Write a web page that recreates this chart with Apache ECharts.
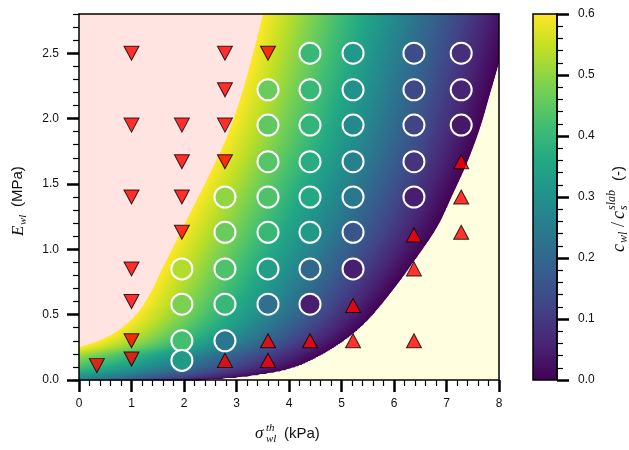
<!DOCTYPE html>
<html>
<head>
<meta charset="utf-8">
<script src="https://cdn.jsdelivr.net/npm/echarts@6/dist/echarts.min.js"></script>
<style>
  html, body { margin: 0; padding: 0; background: #fff; }
  #chart { width: 629px; height: 450px; }
</style>
</head>
<body>
<div id="chart"></div>
<script>
// Axis ranges and tick values
const xTicks = [0, 1, 2, 3, 4, 5, 6, 7, 8];
const yMajorTicks = [0, 0.5, 1.0, 1.5, 2.0, 2.5];
const cTicks = [0, 0.1, 0.2, 0.3, 0.4, 0.5, 0.6];

// Experiments with a stable weak layer: [sigma_th (kPa), E_wl (MPa), c_wl/c_s^slab]
const stablePoints = [
  [4.4, 2.5, 0.40], [5.22, 2.5, 0.32], [6.38, 2.5, 0.14], [7.28, 2.5, 0.08],
  [3.6, 2.22, 0.46], [4.4, 2.22, 0.40], [5.22, 2.22, 0.30], [6.38, 2.22, 0.13], [7.28, 2.22, 0.06],
  [3.6, 1.95, 0.45], [4.4, 1.95, 0.39], [5.22, 1.95, 0.28], [6.38, 1.95, 0.12], [7.28, 1.95, 0.04],
  [3.6, 1.67, 0.44], [4.4, 1.67, 0.37], [5.22, 1.67, 0.26], [6.38, 1.67, 0.09],
  [2.78, 1.40, 0.50], [3.6, 1.40, 0.43], [4.4, 1.40, 0.36], [5.22, 1.40, 0.24], [6.38, 1.40, 0.05],
  [2.78, 1.13, 0.46], [3.6, 1.13, 0.40], [4.4, 1.13, 0.32], [5.22, 1.13, 0.16],
  [1.96, 0.85, 0.53], [2.78, 0.85, 0.43], [3.6, 0.85, 0.33], [4.4, 0.85, 0.20], [5.22, 0.85, 0.05],
  [1.96, 0.58, 0.48], [2.78, 0.58, 0.40], [3.6, 0.58, 0.22], [4.4, 0.58, 0.05],
  [1.96, 0.30, 0.42], [2.78, 0.30, 0.24],
  [1.96, 0.15, 0.32]
];

// Experiments in which the slab fails first: [sigma_th, E_wl]
const slabFailure = [
  [0.34, 0.11], [1.0, 0.16], [1.0, 0.30], [1.0, 0.60], [1.0, 0.85], [1.0, 1.40], [1.0, 1.95], [1.0, 2.5],
  [1.96, 1.13], [1.96, 1.40], [1.96, 1.67], [1.96, 1.95],
  [2.78, 1.67], [2.78, 1.95], [2.78, 2.22], [2.78, 2.5],
  [3.6, 2.5]
];

// Experiments in which the weak layer collapses first: [sigma_th, E_wl]
const wlFailure = [
  [2.78, 0.15], [3.6, 0.15], [3.6, 0.30], [4.4, 0.30], [5.22, 0.30], [6.38, 0.30],
  [5.22, 0.57], [6.38, 0.85], [6.38, 1.11],
  [7.28, 1.13], [7.28, 1.40], [7.28, 1.67]
];

// Edges of the transition band, [sigma_th, E_wl]; upper edge is c = 0.6, lower edge is c = 0
const upperEdge = [
  [-3.5, 0], [-1.8, 0.1], [-0.7, 0.2], [0, 0.25], [0.5, 0.32], [1.0, 0.46], [1.3, 0.62],
  [1.6, 0.86], [1.9, 1.10], [2.2, 1.34], [2.5, 1.58], [2.8, 1.84], [3.05, 2.12],
  [3.3, 2.47], [3.51, 2.8]
];
const lowerEdge = [
  [2.3, 0], [2.7, 0.01], [3.2, 0.03], [3.7, 0.06], [4.1, 0.1], [4.5, 0.17],
  [4.85, 0.25], [5.2, 0.35], [5.5, 0.46], [5.92, 0.66], [6.4, 0.92],
  [6.82, 1.17], [7.13, 1.43], [7.41, 1.68], [7.64, 1.93], [7.83, 2.19], [7.96, 2.37], [8.25, 2.8]
];

const X_MIN = 0, X_MAX = 8, Y_MIN = 0, Y_MAX = 2.8, C_MIN = 0, C_MAX = 0.6;

const viridis = ['#440154', '#482475', '#414487', '#355f8d', '#2a788e', '#21918c',
                 '#22a884', '#44bf70', '#7ad151', '#bddf26', '#fde725'];
// high value (yellow) first
const stopsHighToLow = viridis.map((c, i) => ({ offset: i / 10, color: viridis[10 - i] }));

// Monotone cubic (Fritsch-Carlson) curve giving sigma as a function of E along an edge
function edgeCurve(edge) {
  const xs = edge.map(p => p[1]), ys = edge.map(p => p[0]);
  const n = xs.length;
  const d = [], m = new Array(n);
  for (let i = 0; i < n - 1; i++) d.push((ys[i + 1] - ys[i]) / (xs[i + 1] - xs[i]));
  m[0] = d[0]; m[n - 1] = d[n - 2];
  for (let i = 1; i < n - 1; i++) m[i] = d[i - 1] * d[i] <= 0 ? 0 : (d[i - 1] + d[i]) / 2;
  for (let i = 0; i < n - 1; i++) {
    if (d[i] === 0) { m[i] = 0; m[i + 1] = 0; continue; }
    const a = m[i] / d[i], b = m[i + 1] / d[i], s = a * a + b * b;
    if (s > 9) { const t = 3 / Math.sqrt(s); m[i] = t * a * d[i]; m[i + 1] = t * b * d[i]; }
  }
  return function (x) {
    let i = 0;
    while (i < n - 2 && x > xs[i + 1]) i++;
    const h = xs[i + 1] - xs[i], t = (x - xs[i]) / h;
    const t2 = t * t, t3 = t2 * t;
    return (2 * t3 - 3 * t2 + 1) * ys[i] + (t3 - 2 * t2 + t) * h * m[i] +
           (-2 * t3 + 3 * t2) * ys[i + 1] + (t3 - t2) * h * m[i + 1];
  };
}
const upperSigma = edgeCurve(upperEdge);
const lowerSigma = edgeCurve(lowerEdge);

// Horizontal strips used to paint the band between the two edges
const STRIP = 0.01;
const bandStrips = [];
for (let k = 0; k < Math.round((Y_MAX - Y_MIN) / STRIP); k++) {
  bandStrips.push([Y_MIN + k * STRIP, Y_MIN + (k + 1) * STRIP]);
}

function renderBand(params, api) {
  const e0 = api.value(0), e1 = api.value(1);
  const yA = api.coord([0, e0])[1] + 0.6;
  const yB = api.coord([0, e1])[1] - 0.6;
  const X = s => api.coord([Math.max(X_MIN, Math.min(X_MAX, s)), 0])[0];
  const u0 = upperSigma(e0), u1 = upperSigma(e1);
  const l0 = lowerSigma(e0), l1 = lowerSigma(e1);
  const gx0 = api.coord([(u0 + u1) / 2, 0])[0];
  const gx1 = api.coord([(l0 + l1) / 2, 0])[0];
  const children = [{
    type: 'polygon',
    shape: { points: [[X(u0), yA], [X(l0), yA], [X(l1), yB], [X(u1), yB]] },
    style: { fill: new echarts.graphic.LinearGradient(gx0, 0, gx1, 0, stopsHighToLow, true) }
  }];
  if (l0 < X_MAX || l1 < X_MAX) {
    children.push({
      type: 'polygon',
      shape: { points: [[X(l0), yA], [X(X_MAX), yA], [X(X_MAX), yB], [X(l1), yB]] },
      style: { fill: '#ffffe0' }
    });
  }
  return { type: 'group', children };
}

function renderColorbar(params, api) {
  const cs = params.coordSys;
  return {
    type: 'rect',
    shape: { x: cs.x, y: cs.y, width: cs.width, height: cs.height },
    style: {
      fill: new echarts.graphic.LinearGradient(0, 0, 0, 1, stopsHighToLow),
      stroke: '#000', lineWidth: 1.5
    }
  };
}

const labelFont = 'Liberation Sans, Arial, sans-serif';
const mathFont = 'Liberation Serif, Times New Roman, serif';
const black = '#000';

const borderAxis = (pos) => ({
  axisLine: { show: true, onZero: false, lineStyle: { color: black, width: 1.5 } },
  axisTick: { show: false }, axisLabel: { show: false },
  splitLine: { show: false }, position: pos, z: 10
});

const chart = echarts.init(document.getElementById('chart'), null, { renderer: 'canvas' });

chart.setOption({
  animation: false,
  backgroundColor: '#fff',
  grid: [
    { left: 79, top: 14, width: 420, height: 366, show: true, backgroundColor: '#ffe4e1', borderWidth: 0 },
    { left: 533, top: 14, width: 24, height: 366 }
  ],
  xAxis: [
    {
      gridIndex: 0, type: 'value', min: X_MIN, max: X_MAX, interval: 1, position: 'bottom', z: 10,
      axisLine: { show: true, onZero: false, lineStyle: { color: black, width: 1.5 } },
      axisTick: { show: true, length: 12, lineStyle: { color: black, width: 2.5 } },
      minorTick: { show: true, splitNumber: 5, length: 6, lineStyle: { color: black, width: 1.2 } },
      axisLabel: { margin: 18, fontSize: 12, color: '#111', fontFamily: labelFont,
                   customValues: xTicks, formatter: v => String(v) },
      splitLine: { show: false }
    },
    Object.assign({ gridIndex: 0, type: 'value', min: X_MIN, max: X_MAX }, borderAxis('top')),
    { gridIndex: 1, type: 'value', min: 0, max: 1, show: false }
  ],
  yAxis: [
    {
      gridIndex: 0, type: 'value', min: Y_MIN, max: Y_MAX, interval: 0.5, position: 'left', z: 10,
      axisLine: { show: true, onZero: false, lineStyle: { color: black, width: 1.5 } },
      axisTick: { show: true, length: 12, customValues: yMajorTicks, lineStyle: { color: black, width: 2.5 } },
      axisLabel: { margin: 20, fontSize: 12, color: '#111', fontFamily: labelFont,
                   customValues: yMajorTicks, formatter: v => v.toFixed(1) },
      splitLine: { show: false }
    },
    {
      gridIndex: 0, type: 'value', min: Y_MIN, max: Y_MAX, interval: 0.1, position: 'left', z: 10,
      axisLine: { show: false },
      axisTick: { show: true, length: 6, lineStyle: { color: black, width: 1.2 } },
      axisLabel: { show: false }, splitLine: { show: false }
    },
    Object.assign({ gridIndex: 0, type: 'value', min: Y_MIN, max: Y_MAX }, borderAxis('right')),
    {
      gridIndex: 1, type: 'value', min: C_MIN, max: C_MAX, interval: 0.1, position: 'right', z: 10,
      axisLine: { show: true, onZero: false, lineStyle: { color: black, width: 1.5 } },
      axisTick: { show: true, length: 12, lineStyle: { color: black, width: 2.5 } },
      minorTick: { show: true, splitNumber: 5, length: 6, lineStyle: { color: black, width: 1.2 } },
      axisLabel: { margin: 21, fontSize: 12, color: '#111', fontFamily: labelFont,
                   customValues: cTicks, formatter: v => v.toFixed(1) },
      splitLine: { show: false }
    }
  ],
  visualMap: {
    show: false, type: 'continuous', min: C_MIN, max: C_MAX, dimension: 2, seriesIndex: 1,
    inRange: { color: viridis }
  },
  series: [
    {
      type: 'custom', xAxisIndex: 0, yAxisIndex: 0, renderItem: renderBand,
      data: bandStrips, silent: true, z: 1
    },
    {
      type: 'scatter', xAxisIndex: 0, yAxisIndex: 0, data: stablePoints,
      symbol: 'circle', symbolSize: 21,
      itemStyle: { borderColor: '#fff', borderWidth: 2, opacity: 1 }, z: 3
    },
    {
      type: 'scatter', xAxisIndex: 0, yAxisIndex: 0, data: slabFailure,
      symbol: 'triangle', symbolRotate: 180, symbolSize: [15, 14],
      itemStyle: { color: '#ff0000', borderColor: '#000', borderWidth: 1 }, z: 3
    },
    {
      type: 'scatter', xAxisIndex: 0, yAxisIndex: 0, data: wlFailure,
      symbol: 'triangle', symbolSize: [15, 14],
      itemStyle: { color: '#ff0000', borderColor: '#000', borderWidth: 1 }, z: 3
    },
    {
      type: 'custom', xAxisIndex: 2, yAxisIndex: 3, renderItem: renderColorbar,
      data: [[0.5, 0.3]], silent: true
    }
  ],
  graphic: [
    {
      // x-axis title: sigma_wl^th (kPa)
      type: 'group', left: 255, top: 423,
      children: [
        { type: 'text', x: 0, y: 2, style: { text: 'σ', font: 'italic 17px ' + mathFont, fill: '#111' } },
        { type: 'text', x: 11, y: 0, style: { text: 'th', font: 'italic 11px ' + mathFont, fill: '#111' } },
        { type: 'text', x: 11, y: 11, style: { text: 'wl', font: 'italic 11px ' + mathFont, fill: '#111' } },
        { type: 'text', x: 29, y: 3, style: { text: '(kPa)', font: '15px ' + labelFont, fill: '#111' } }
      ]
    },
    {
      // y-axis title: E_wl (MPa)
      type: 'group', x: 10, y: 236, rotation: Math.PI / 2,
      children: [
        { type: 'text', x: 0, y: 0, style: { text: 'E', font: 'italic 17px ' + mathFont, fill: '#111' } },
        { type: 'text', x: 11, y: 8, style: { text: 'wl', font: 'italic 11px ' + mathFont, fill: '#111' } },
        { type: 'text', x: 29, y: 0, style: { text: '(MPa)', font: '15px ' + labelFont, fill: '#111' } }
      ]
    },
    {
      // colour bar title: c_wl / c_s^slab (-)
      type: 'group', x: 610, y: 252, rotation: Math.PI / 2,
      children: [
        { type: 'text', x: 0, y: 0, style: { text: 'c', font: 'italic 18px ' + mathFont, fill: '#111' } },
        { type: 'text', x: 9, y: 8, style: { text: 'wl', font: 'italic 12px ' + mathFont, fill: '#111' } },
        { type: 'text', x: 25, y: 0, style: { text: '/', font: '18px ' + mathFont, fill: '#111' } },
        { type: 'text', x: 33, y: 0, style: { text: 'c', font: 'italic 18px ' + mathFont, fill: '#111' } },
        { type: 'text', x: 42, y: 8, style: { text: 's', font: 'italic 12px ' + mathFont, fill: '#111' } },
        { type: 'text', x: 42, y: -4, style: { text: 'slab', font: 'italic 12px ' + mathFont, fill: '#111' } },
        { type: 'text', x: 71, y: 1, style: { text: '(-)', font: '15px ' + labelFont, fill: '#111' } }
      ]
    }
  ]
});
</script>
</body>
</html>
